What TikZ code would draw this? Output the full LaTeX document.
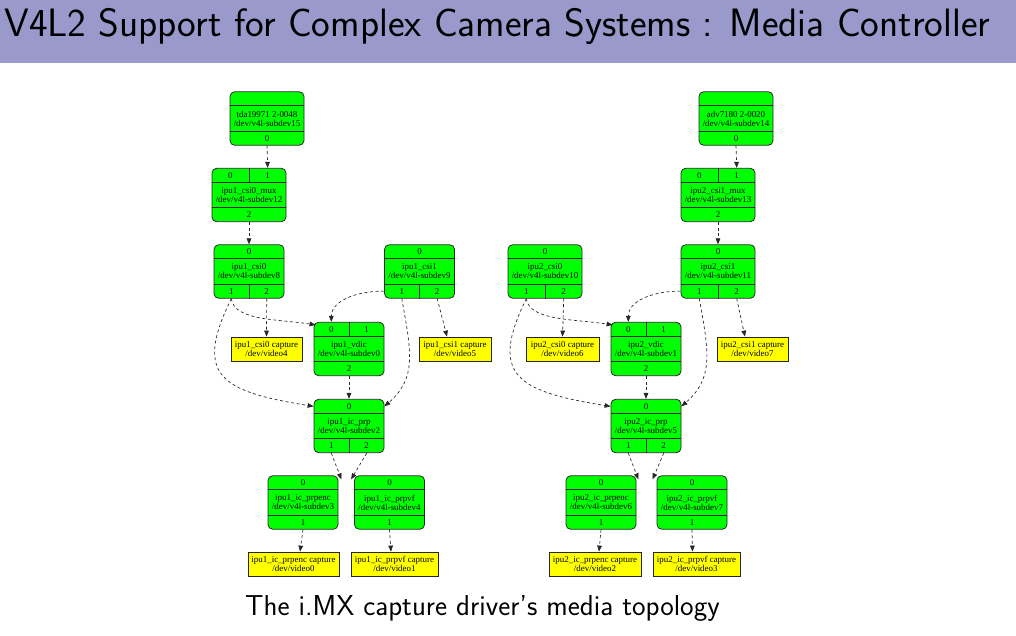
\documentclass[tikz,border=0pt]{standalone}
\usepackage{fontspec}
\newfontfamily\gvfont{Liberation Serif}
\usetikzlibrary{calc,arrows.meta}
\definecolor{titlebar}{RGB}{153,153,204}
\definecolor{subdevgreen}{RGB}{0,255,0}
\definecolor{captureyellow}{RGB}{255,255,0}
\newcommand{\gvsize}{\gvfont\fontsize{6.7}{6.7}\selectfont}
%% green record: name, centre, width (px), text
\newcommand{\subdev}[4]{%
  \node[subdev, minimum width=#3*0.75pt] (#1) at (#2) {#4};
  \draw[rowline] ([yshift=-10.875pt]#1.north west) -- ([yshift=-10.875pt]#1.north east);
  \draw[rowline] ([yshift=10.875pt]#1.south west) -- ([yshift=10.875pt]#1.south east);
}
%% pads of a record: name, north/south, pad list
\newcommand{\padrow}[3]{%
  \foreach \p [count=\n] in {#3} {\xdef\padcount{\n}}
  \foreach \p [count=\i] in {#3} {
    \node[pad, anchor=#2] (#1-\p) at ($(#1.#2 west)!{(\i-0.5)/\padcount}!(#1.#2 east)$) {\p};
    \ifnum\i>1
      \coordinate (#1-div) at ($(#1.#2 west)!{(\i-1)/\padcount}!(#1.#2 east)$);
      \draw[rowline] (#1-div |- #1-\p.north) -- (#1-div |- #1-\p.south);
    \fi
  }
}
\begin{document}
\begin{tikzpicture}[x=0.75pt,y=0.75pt,
    subdev/.style={draw=black!85, fill=subdevgreen, rounded corners=3.5pt, minimum height=40.1pt,
      inner sep=0pt, align=center, font=\gvsize, line width=0.6pt},
    rowline/.style={draw=black!85, line width=0.6pt},
    pad/.style={inner sep=0pt, minimum height=10.875pt, font=\gvsize},
    capture/.style={draw=black!85, fill=captureyellow, minimum height=18pt, inner sep=0pt,
      align=center, font=\gvsize, line width=0.6pt},
    link/.style={draw=black!85, line width=0.5pt, dash pattern=on 2.2pt off 2pt,
      -{Triangle[length=4.5pt,width=3.5pt]}}]
  \useasboundingbox (0,0) rectangle (1016,-635);
  %% title
  \fill[titlebar] (0,0) rectangle (1016,-63);
  \node[anchor=base west, inner sep=0pt, font=\sffamily\fontsize{29.7}{33}\selectfont] (title) at (4,-37)
    {V4L2 Support for Complex Camera Systems : Media Controller};
  %% ipu1
  \subdev{tda}{267,-118.5}{74}{tda19971 2-0048\\/dev/v4l-subdev15}
  \padrow{tda}{south}{0}
  \subdev{mux1}{249,-195}{74}{ipu1\_csi0\_mux\\/dev/v4l-subdev12}
  \padrow{mux1}{north}{0,1} \padrow{mux1}{south}{2}
  \subdev{csi10}{249,-271.5}{70}{ipu1\_csi0\\/dev/v4l-subdev8}
  \padrow{csi10}{north}{0} \padrow{csi10}{south}{1,2}
  \subdev{csi11}{419.5,-271.5}{70}{ipu1\_csi1\\/dev/v4l-subdev9}
  \padrow{csi11}{north}{0} \padrow{csi11}{south}{1,2}
  \subdev{vdic1}{349,-349}{70}{ipu1\_vdic\\/dev/v4l-subdev0}
  \padrow{vdic1}{north}{0,1} \padrow{vdic1}{south}{2}
  \subdev{prp1}{349,-426}{70}{ipu1\_ic\_prp\\/dev/v4l-subdev2}
  \padrow{prp1}{north}{0} \padrow{prp1}{south}{1,2}
  \subdev{enc1}{303,-502.5}{70}{ipu1\_ic\_prpenc\\/dev/v4l-subdev3}
  \padrow{enc1}{north}{0} \padrow{enc1}{south}{1}
  \subdev{vf1}{389.5,-502.5}{70}{ipu1\_ic\_prpvf\\/dev/v4l-subdev4}
  \padrow{vf1}{north}{0} \padrow{vf1}{south}{1}
  \node[capture, minimum width=53.25pt] (cap10) at (266.5,-349) {ipu1\_csi0 capture\\/dev/video4};
  \node[capture, minimum width=54pt] (cap11) at (455,-349) {ipu1\_csi1 capture\\/dev/video5};
  \node[capture, minimum width=68.25pt] (capenc1) at (293.5,-564) {ipu1\_ic\_prpenc capture\\/dev/video0};
  \node[capture, minimum width=65.25pt] (capvf1) at (394.5,-564) {ipu1\_ic\_prpvf capture\\/dev/video1};
  \draw[link] (tda-0.south) -- (mux1-1.north);
  \draw[link] (mux1-2.south) -- (csi10-0.north);
  \draw[link] (csi10-1.south) .. controls +(3,-22) and +(-40,6) .. ([shift={(2,-3)}]vdic1.north west);
  \draw[link] (csi10-1.south) .. controls +(-38,-77) and +(-93,15) .. (prp1.west |- prp1-0);
  \draw[link] (csi10-2.south) -- (cap10.north);
  \draw[link] (csi11.west |- csi11-1) .. controls +(-30,0) and +(0,20) .. (vdic1-0.north);
  \draw[link] (csi11-1.south) .. controls +(10,-55) and +(32,28) .. (prp1.east |- prp1-0);
  \draw[link] (csi11-2.south) -- ([shift={(-8,0)}]cap11.north);
  \draw[link] (vdic1-2.south) -- (prp1-0.north);
  \draw[link] (prp1-1.south) -- ([shift={(3,-4)}]enc1.north east);
  \draw[link] (prp1-2.south) -- ([shift={(-3,-4)}]vf1.north west);
  \draw[link] (enc1-1.south) -- ([shift={(6.5,0)}]capenc1.north);
  \draw[link] (vf1-1.south) -- ([shift={(-3.5,0)}]capvf1.north);
  %% ipu2
  \subdev{adv}{736,-118.5}{74}{adv7180 2-0020\\/dev/v4l-subdev14}
  \padrow{adv}{south}{0}
  \subdev{mux2}{718,-195}{74}{ipu2\_csi1\_mux\\/dev/v4l-subdev13}
  \padrow{mux2}{north}{0,1} \padrow{mux2}{south}{2}
  \subdev{csi20}{545,-271.5}{74}{ipu2\_csi0\\/dev/v4l-subdev10}
  \padrow{csi20}{north}{0} \padrow{csi20}{south}{1,2}
  \subdev{csi21}{718,-271.5}{74}{ipu2\_csi1\\/dev/v4l-subdev11}
  \padrow{csi21}{north}{0} \padrow{csi21}{south}{1,2}
  \subdev{vdic2}{646,-349}{70}{ipu2\_vdic\\/dev/v4l-subdev1}
  \padrow{vdic2}{north}{0,1} \padrow{vdic2}{south}{2}
  \subdev{prp2}{646,-426}{70}{ipu2\_ic\_prp\\/dev/v4l-subdev5}
  \padrow{prp2}{north}{0} \padrow{prp2}{south}{1,2}
  \subdev{enc2}{601,-502.5}{70}{ipu2\_ic\_prpenc\\/dev/v4l-subdev6}
  \padrow{enc2}{north}{0} \padrow{enc2}{south}{1}
  \subdev{vf2}{692,-502.5}{70}{ipu2\_ic\_prpvf\\/dev/v4l-subdev7}
  \padrow{vf2}{north}{0} \padrow{vf2}{south}{1}
  \node[capture, minimum width=54.75pt] (cap20) at (562.5,-349) {ipu2\_csi0 capture\\/dev/video6};
  \node[capture, minimum width=53.25pt] (cap21) at (752.5,-349) {ipu2\_csi1 capture\\/dev/video7};
  \node[capture, minimum width=69pt] (capenc2) at (595,-564) {ipu2\_ic\_prpenc capture\\/dev/video2};
  \node[capture, minimum width=65.25pt] (capvf2) at (696.5,-564) {ipu2\_ic\_prpvf capture\\/dev/video3};
  \draw[link] (adv-0.south) -- (mux2-1.north);
  \draw[link] (mux2-2.south) -- (csi21-0.north);
  \draw[link] (csi20-1.south) .. controls +(3,-22) and +(-40,6) .. ([shift={(2,-3)}]vdic2.north west);
  \draw[link] (csi20-1.south) .. controls +(-38,-77) and +(-93,15) .. (prp2.west |- prp2-0);
  \draw[link] (csi20-2.south) -- (cap20.north);
  \draw[link] (csi21.west |- csi21-1) .. controls +(-30,0) and +(0,20) .. (vdic2-0.north);
  \draw[link] (csi21-1.south) .. controls +(10,-55) and +(32,28) .. (prp2.east |- prp2-0);
  \draw[link] (csi21-2.south) -- ([shift={(-7.5,0)}]cap21.north);
  \draw[link] (vdic2-2.south) -- (prp2-0.north);
  \draw[link] (prp2-1.south) -- ([shift={(2,-4)}]enc2.north east);
  \draw[link] (prp2-2.south) -- ([shift={(-4,-4)}]vf2.north west);
  \draw[link] (enc2-1.south) -- ([shift={(4,0)}]capenc2.north);
  \draw[link] (vf2-1.south) -- ([shift={(-4,0)}]capvf2.north);
  %% caption
  \node[anchor=base, inner sep=0pt, font=\sffamily\fontsize{21.6}{24}\selectfont] (caption) at (482.5,-615)
    {The i.MX capture driver’s media topology};
\end{tikzpicture}
\end{document}
